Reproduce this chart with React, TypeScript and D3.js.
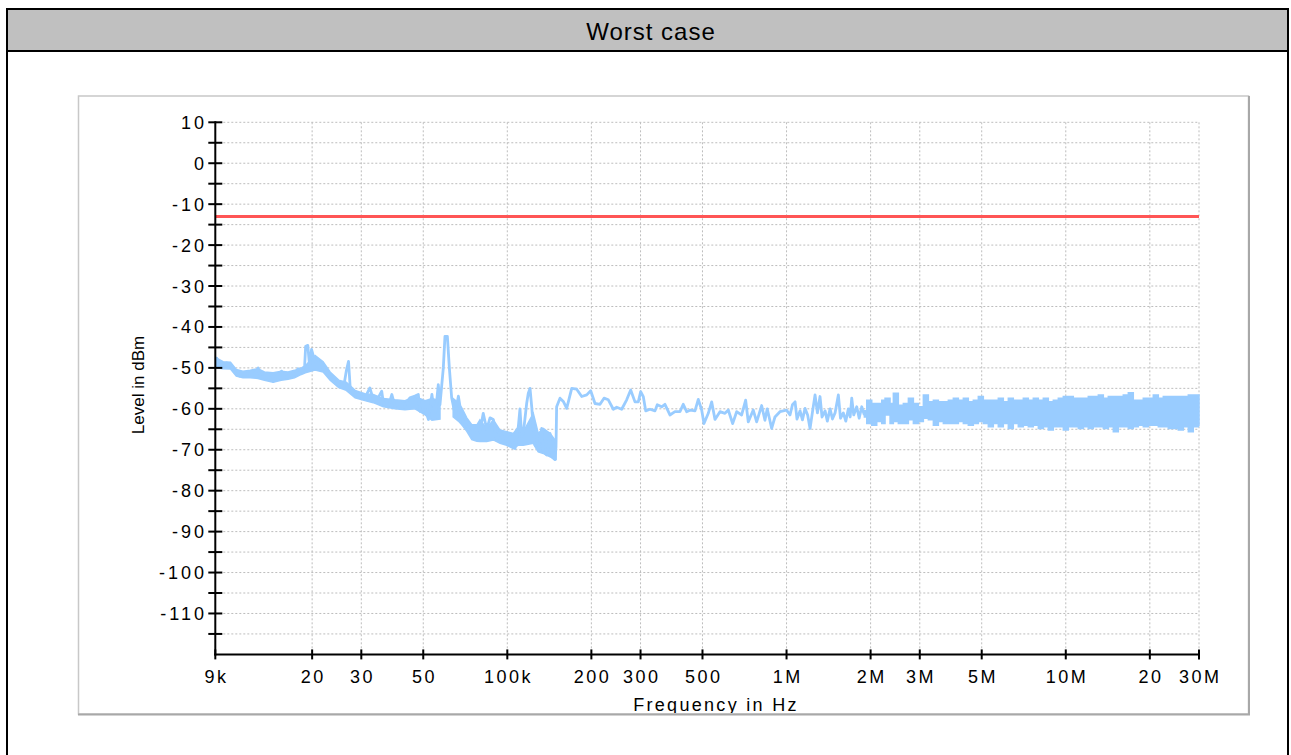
import React from "react";
import * as d3 from "d3";

// ---- data ----
const traceFreqKHz = [
  9.0, 9.1, 9.35, 9.62, 9.88, 10.15, 10.43, 10.72, 11.0, 11.33, 11.65, 11.98, 12.48, 12.82, 13.0, 13.55, 14.1, 14.5,
  14.91, 15.32, 15.54, 15.96, 16.4, 16.87, 17.33, 17.8, 18.3, 18.8, 18.96, 19.3, 19.6, 19.9, 20.3, 20.8, 21.4, 21.9,
  22.6, 23.2, 24.2, 24.9, 25.9, 26.5, 27.0, 27.4, 28.5, 29.7, 30.9, 32.2, 33.1, 34.5, 35.5, 36.0, 37.5, 38.6, 39.6,
  41.3, 43.0, 44.8, 46.7, 48.0, 48.7, 50.8, 52.2, 53.7, 55.1, 56.6, 57.4, 59.0, 59.8, 61.0, 62.0, 63.2, 65.0, 66.8,
  68.7, 71.6, 74.6, 77.8, 79.8, 82.0, 84.4, 86.7, 89.1, 91.6, 94.2, 96.8, 99.5, 102.3, 105.1, 106.6, 109.5, 111.0,
  112.6, 114.1, 117.3, 118.9, 120.6, 122.3, 123.9, 125.6, 129.1, 132.8, 134.6, 138.4, 142.2, 144.2, 148.2, 149.4,
  150.2, 154.4, 158.7, 163.2, 170.1, 177.2, 184.7, 192.5, 198.9, 206.1, 214.8, 222.0, 230.0, 239.7, 246.5, 256.8,
  267.6, 276.6, 286.6, 294.5, 300.4, 306.9, 313.1, 324.3, 338.0, 344.4, 357.1, 366.9, 382.3, 398.4, 415.2, 426.7,
  438.8, 453.5, 470.0, 483.0, 496.7, 506.2, 524.5, 539.4, 554.3, 577.6, 601.9, 618.5, 641.2, 662.7, 690.6, 713.8,
  729.3, 760.0, 781.6, 814.4, 836.8, 853.0, 884.6, 908.9, 947.1, 1000, 1029, 1050, 1073, 1090, 1118, 1140, 1165,
  1190, 1214, 1240, 1265, 1290, 1318, 1340, 1374, 1400, 1432, 1460, 1492, 1533, 1560, 1597, 1630, 1665, 1690, 1712,
  1740, 1784, 1820, 1859, 1900,
];
const traceLevel = [
  -49.6, -47.6, -49.6, -49.2, -48.8, -49.2, -50.4, -51.6, -52.0, -51.5, -51.5, -51.2, -51.6, -50.0, -52.0, -52.3, -52.4, -53.3,
  -52.0, -52.4, -50.8, -52.4, -52.0, -51.5, -51.6, -50.2, -50.8, -49.6, -44.7, -44.5, -50.0, -45.5, -47.6, -49.2, -48.8, -50.0,
  -50.8, -52.4, -53.7, -54.1, -54.9, -50.8, -48.4, -55.3, -56.5, -56.9, -57.3, -54.9, -57.7, -57.3, -55.7, -58.6, -59.4, -56.5, -59.4,
  -58.6, -59.0, -57.3, -56.9, -56.5, -60.6, -60.2, -62.6, -56.5, -62.2, -54.1, -59.0, -50.0, -42.3, -42.3, -50.0, -57.3, -61.4, -56.9,
  -62.2, -64.3, -65.9, -64.7, -65.6, -61.1, -65.0, -62.2, -62.6, -67.6, -65.6, -67.6, -68.0, -66.8, -68.9, -69.7, -64.4, -60.0,
  -66.8, -66.0, -58.7, -56.2, -55.0, -59.5, -65.2, -68.9, -70.1, -64.8, -70.5, -71.3, -66.0, -71.7, -72.4, -69.3,
  -59.5, -57.4, -58.2, -59.9, -55.0, -55.2, -57.0, -56.6, -55.6, -58.7, -58.9, -57.4, -57.8, -60.1, -59.6, -60.1,
  -57.8, -55.4, -58.3, -58.3, -55.8, -57.0, -60.5, -60.1, -60.5, -59.0, -59.5, -58.9, -61.5, -60.7, -60.7, -58.9,
  -60.7, -60.3, -60.5, -57.7, -60.3, -63.6, -61.1, -58.3, -62.6, -60.7, -61.1, -60.3, -63.6, -60.7, -61.5, -57.9,
  -63.2, -60.3, -63.2, -59.2, -62.8, -60.0, -64.8, -62.0, -60.7, -60.3, -61.5, -59.0, -58.3, -62.5, -60.5, -62.7, -59.9,
  -61.5, -64.8, -60.5, -56.6, -61.0, -57.0, -62.0, -60.5, -63.0, -60.0, -62.5, -61.0, -56.6, -62.3, -61.0, -63.0, -60.0, -62.0, -57.4,
  -61.5, -59.5, -62.3, -59.5, -61.5,
];

// jitter band of the low-frequency trace (kHz, upper dBm, lower dBm)
const loBandFreqKHz = [9.1, 9.6, 10.2, 10.7, 11.3, 12.0, 12.8, 13.5, 14.5, 15.5, 16.4, 17.3, 18.3, 18.9, 20.5, 21.9, 23.2, 24.9, 26.5, 28.5, 30.9, 33.1, 36.0, 39.6, 43.0, 46.7, 50.8, 53.7, 57.4];
const loBandUpper = [-47.6, -48.5, -48.6, -50.4, -50.8, -50.6, -50.2, -51.0, -51.2, -50.8, -51.0, -50.6, -50.0, -49.5, -47.0, -48.5, -51.0, -53.0, -53.5, -55.5, -56.3, -56.5, -57.5, -57.8, -58.0, -57.0, -58.0, -57.5, -58.0];
const loBandLower = [-50.0, -50.2, -50.3, -52.0, -52.4, -52.4, -52.6, -53.0, -53.5, -53.0, -52.8, -52.4, -51.6, -51.2, -50.5, -51.0, -53.0, -54.8, -55.5, -57.3, -58.0, -58.5, -59.5, -60.0, -60.2, -60.0, -61.5, -62.8, -62.5];

// noisy band 64k-150k (kHz, upper dBm, lower dBm)
const lfBandFreqKHz = [64, 66.8, 68.7, 71.6, 74.6, 77.8, 79.8, 84.4, 89.1, 94.2, 99.5, 105.1, 109.5, 114.1, 123.9, 129.1, 134.6, 142.2, 148.2, 149.5];
const lfBandUpper = [-57.5, -58.5, -59.8, -62.2, -63.9, -63.9, -62.7, -64.8, -62.7, -65.2, -65.6, -66.0, -64.4, -65.6, -61.1, -66.0, -64.8, -66.0, -67.6, -68.0];
const lfBandLower = [-62.0, -63.0, -63.9, -65.5, -67.5, -67.9, -68.0, -68.0, -67.6, -68.4, -68.9, -69.7, -68.9, -68.9, -68.4, -70.5, -70.9, -71.7, -72.4, -72.4];

// noisy high-frequency band (MHz, upper dBm, lower dBm)
const hfBandFreqMHz = [
  1.9, 1.938,
  2.019, 2.104, 2.193, 2.253, 2.348, 2.413, 2.514, 2.62, 2.731, 2.846, 2.965, 3.09, 3.22, 3.356, 3.497, 3.644, 3.797, 3.957,
  4.124, 4.297, 4.477, 4.666, 4.862, 5.067, 5.28, 5.502, 5.733, 5.975, 6.226, 6.488, 6.761, 7.047, 7.343, 7.652, 7.974, 8.31,
  8.66, 9.024, 9.404, 9.8, 10.21, 10.64, 11.09, 11.56, 12.04, 12.55, 13.08, 13.63, 14.2, 14.8, 15.42, 16.07, 16.75, 17.45,
  18.19, 18.95, 19.75, 20.58, 21.45, 22.35, 23.29, 24.27, 25.29, 26.36, 27.47, 28.62, 29.83, 30.0,
];
const hfBandUpper = [
  -60.5, -57.9,
  -58.7, -58.7, -57.9, -57.4, -58.7, -56.2, -59.1, -58.7, -57.4, -58.7, -59.5, -56.6, -58.3, -57.9, -58.3, -58.3, -57.9, -57.4,
  -57.9, -57.4, -58.3, -57.9, -57.0, -57.9, -57.9, -57.9, -57.4, -58.3, -57.4, -57.9, -57.9, -57.4, -57.9, -57.4, -57.9, -57.4,
  -58.3, -57.9, -57.4, -57.0, -57.0, -57.4, -57.4, -57.4, -57.0, -57.0, -56.6, -57.4, -57.0, -57.0, -57.0, -56.6, -56.1, -57.9,
  -57.9, -57.4, -57.4, -56.6, -57.4, -57.0, -57.0, -57.0, -57.0, -57.0, -56.6, -56.6, -56.6, -57.9,
];
const hfBandLower = [
  -62.0, -63.6,
  -64.0, -63.1, -63.6, -61.5, -63.6, -63.1, -63.6, -63.6, -62.7, -63.6, -63.1, -62.3, -62.7, -64.0, -63.1, -63.6, -63.6, -63.6,
  -63.1, -63.6, -64.0, -63.6, -63.1, -63.6, -64.4, -63.6, -64.4, -63.6, -64.8, -63.6, -64.4, -64.0, -64.4, -64.0, -64.8, -64.4,
  -65.2, -64.4, -64.4, -65.2, -64.4, -64.4, -64.8, -64.4, -64.8, -64.4, -64.4, -64.8, -64.4, -65.6, -64.4, -64.4, -64.8, -64.4,
  -64.0, -64.4, -64.0, -64.0, -64.4, -64.4, -64.8, -64.8, -65.2, -64.4, -65.6, -64.4, -64.0, -63.6,
];

const limitLevel = -13;

const xTickValues = [9e3, 20e3, 30e3, 50e3, 100e3, 200e3, 300e3, 500e3, 1e6, 2e6, 3e6, 5e6, 10e6, 20e6, 30e6];
const xTickLabels = ["9k", "20", "30", "50", "100k", "200", "300", "500", "1M", "2M", "3M", "5M", "10M", "20", "30M"];
const yTickValues = [10, 0, -10, -20, -30, -40, -50, -60, -70, -80, -90, -100, -110];
const yMinorValues = [5, -5, -15, -25, -35, -45, -55, -65, -75, -85, -95, -105, -115];

const title = "Worst case";
const xTitle = "Frequency in Hz";
const yTitle = "Level in dBm";

// ---- layout ----
const W = 1291;
const H = 755;
const X0 = 215.3;
const X1 = 1199;
const YT = 122.3;
const YB = 654.4;
const FONT = "'Liberation Sans', Arial, sans-serif";
const TRACE = "#99ccff";

type Band = [number, number, number];

export default function App() {
  const x = d3.scaleLog().domain([9e3, 30e6]).range([X0, X1]);
  const y = d3.scaleLinear().domain([-120, 10]).range([YB, YT]);

  const linePts = traceFreqKHz.map((f, i) => [f * 1e3, traceLevel[i]] as [number, number]);
  const line = d3.line<[number, number]>().x((d) => x(d[0])).y((d) => y(d[1]));

  const loPts = loBandFreqKHz.map((f, i) => [f * 1e3, loBandUpper[i], loBandLower[i]] as Band);
  const lfPts = lfBandFreqKHz.map((f, i) => [f * 1e3, lfBandUpper[i], lfBandLower[i]] as Band);
  const hfPts = hfBandFreqMHz.map((f, i) => [f * 1e6, hfBandUpper[i], hfBandLower[i]] as Band);
  const areaLin = d3
    .area<Band>()
    .x((d) => x(d[0]))
    .y0((d) => y(d[2]))
    .y1((d) => y(d[1]));
  const areaStep = d3
    .area<Band>()
    .x((d) => x(d[0]))
    .y0((d) => y(d[2]))
    .y1((d) => y(d[1]))
    .curve(d3.curveStepAfter);

  const gridH = [...yTickValues, ...yMinorValues];
  const gridV = xTickValues.slice(1);

  return (
    <svg
      width={W}
      height={H}
      style={{ position: "absolute", left: 0, top: 0, background: "#fff" }}
      fontFamily={FONT}
    >
      {/* outer frame and title band */}
      <rect x={7} y={9} width={1281} height={800} fill="#fff" stroke="#000" strokeWidth={2} />
      <rect x={8} y={10} width={1279} height={40} fill="#c0c0c0" />
      <line x1={7} x2={1288} y1={51} y2={51} stroke="#000" strokeWidth={2} />
      <text x={651} y={39.5} textAnchor="middle" fontSize={24} letterSpacing={1} fill="#000">
        {title}
      </text>

      {/* inner panel */}
      <rect x={78.5} y={96} width={1170} height={618} fill="#fff" stroke="#c8c8c8" strokeWidth={1.5} />
      <line x1={1249} x2={1249} y1={96} y2={715} stroke="#a8a8a8" strokeWidth={2} />
      <line x1={78} x2={1250} y1={714.5} y2={714.5} stroke="#a8a8a8" strokeWidth={2} />

      <defs>
        <clipPath id="panelClip">
          <rect x={79} y={97} width={1169} height={616} />
        </clipPath>
        <clipPath id="plotClip">
          <rect x={X0} y={YT - 2} width={X1 - X0 + 2} height={YB - YT + 2} />
        </clipPath>
      </defs>

      {/* grid */}
      {gridH.map((v) => (
        <line key={"h" + v} x1={X0} x2={X1} y1={y(v)} y2={y(v)} stroke="#bdbdbd" strokeWidth={1} strokeDasharray="2,2" />
      ))}
      {gridV.map((v) => (
        <line key={"v" + v} x1={x(v)} x2={x(v)} y1={YT} y2={YB} stroke="#bdbdbd" strokeWidth={1} strokeDasharray="2,2" />
      ))}

      {/* traces */}
      <g clipPath="url(#plotClip)">
        <path d={areaLin(loPts) || ""} fill={TRACE} stroke={TRACE} strokeWidth={1.5} />
        <path d={areaLin(lfPts) || ""} fill={TRACE} stroke={TRACE} strokeWidth={1.5} />
        <path d={areaStep(hfPts) || ""} fill={TRACE} stroke={TRACE} strokeWidth={1.5} />
        <path d={line(linePts) || ""} fill="none" stroke={TRACE} strokeWidth={2.8} strokeLinejoin="round" />
        <line x1={X0} x2={X1} y1={y(limitLevel)} y2={y(limitLevel)} stroke="#ff5555" strokeWidth={3} />
      </g>

      {/* axes */}
      <line x1={X0} x2={X0} y1={YT - 1} y2={YB + 1} stroke="#000" strokeWidth={2} />
      <line x1={X0 - 1} x2={X1 + 1} y1={YB} y2={YB} stroke="#000" strokeWidth={2} />
      {[...yTickValues, ...yMinorValues].map((v) => (
        <line key={"yt" + v} x1={X0 - 7} x2={X0 + 7} y1={y(v)} y2={y(v)} stroke="#000" strokeWidth={2} />
      ))}
      {xTickValues.map((v) => (
        <line key={"xt" + v} x1={x(v)} x2={x(v)} y1={YB - 5} y2={YB + 5} stroke="#000" strokeWidth={2} />
      ))}

      {/* y tick labels */}
      {yTickValues.map((v) => (
        <text key={"yl" + v} x={204 + 3} y={y(v) + 6.5} textAnchor="end" fontSize={18} letterSpacing={3} fill="#000">
          {String(v)}
        </text>
      ))}
      {/* x tick labels */}
      {xTickValues.map((v, i) => (
        <text key={"xl" + v} x={x(v) + 1.25} y={683} textAnchor="middle" fontSize={18} letterSpacing={2.5} fill="#000">
          {xTickLabels[i]}
        </text>
      ))}

      {/* axis titles */}
      <g clipPath="url(#panelClip)">
        <text x={716} y={711} textAnchor="middle" fontSize={18} letterSpacing={2.3} fill="#000">
          {xTitle}
        </text>
      </g>
      <text
        transform={`translate(144,385) rotate(-90)`}
        textAnchor="middle"
        fontSize={17}
        fill="#000"
      >
        {yTitle}
      </text>
    </svg>
  );
}
